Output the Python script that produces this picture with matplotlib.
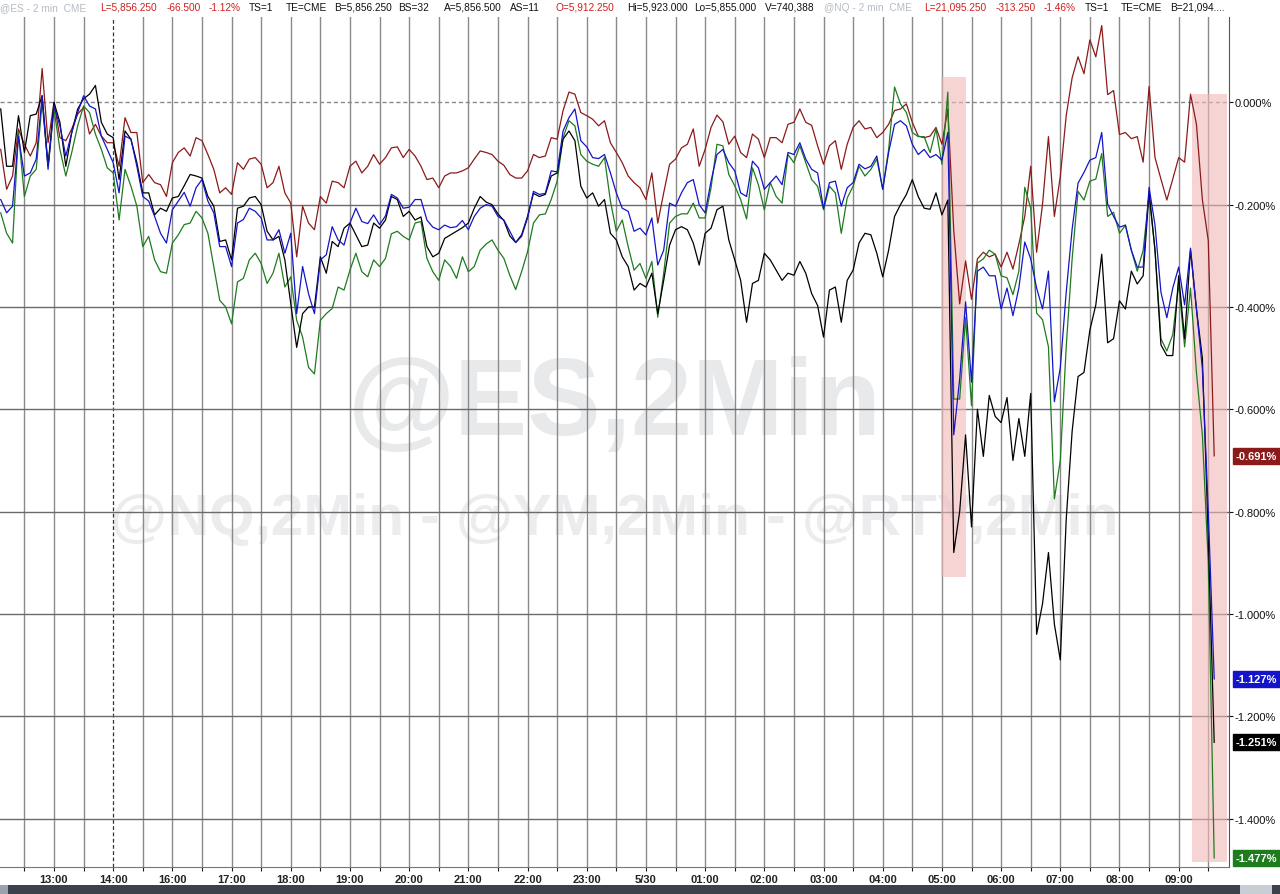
import matplotlib
matplotlib.use("Agg")
import matplotlib.pyplot as plt
import numpy as np
from matplotlib.patches import Rectangle

plt.rcParams['font.family'] = ['Liberation Sans', 'DejaVu Sans']

# chart time in hours, 13:00 == 1.0 (the 15:00 hour is the session break, skipped on the axis)
t = np.round(np.arange(1, 207) * 0.1, 1)

# % change, every 0.1h
ym = [-0.092, -0.170, -0.144, -0.052, -0.082, -0.105, -0.079, 0.066, -0.079, 0.000,
      -0.069, -0.075, -0.052, -0.023, -0.010, -0.062, -0.043, -0.066, -0.079, -0.079,
      -0.125, -0.030, -0.059, -0.059, -0.157, -0.141, -0.157, -0.161, -0.184, -0.118,
      -0.098, -0.089, -0.105, -0.069, -0.075, -0.102, -0.131, -0.177, -0.167, -0.180,
      -0.118, -0.131, -0.111, -0.108, -0.121, -0.167, -0.157, -0.125, -0.177, -0.197,
      -0.302, -0.203, -0.236, -0.249, -0.184, -0.197, -0.154, -0.157, -0.167, -0.125,
      -0.115, -0.138, -0.125, -0.102, -0.121, -0.108, -0.089, -0.087, -0.108, -0.092,
      -0.105, -0.125, -0.151, -0.148, -0.167, -0.144, -0.138, -0.138, -0.134, -0.128,
      -0.111, -0.095, -0.098, -0.102, -0.115, -0.123, -0.141, -0.148, -0.148, -0.134,
      -0.102, -0.108, -0.105, -0.069, -0.072, -0.016, 0.020, 0.016, -0.020, -0.026,
      -0.033, -0.046, -0.036, -0.079, -0.098, -0.118, -0.144, -0.157, -0.167, -0.190,
      -0.138, -0.236, -0.177, -0.121, -0.111, -0.089, -0.082, -0.052, -0.125, -0.092,
      -0.049, -0.025, -0.038, -0.082, -0.066, -0.098, -0.108, -0.062, -0.072, -0.108,
      -0.069, -0.069, -0.079, -0.043, -0.039, -0.013, -0.039, -0.045, -0.085, -0.121,
      -0.085, -0.075, -0.131, -0.082, -0.049, -0.036, -0.052, -0.049, -0.069, -0.059,
      -0.043, -0.016, -0.013, -0.003, -0.039, -0.066, -0.069, -0.066, -0.049, -0.082,
      -0.013, -0.250, -0.394, -0.310, -0.385, -0.306, -0.293, -0.302, -0.297, -0.322,
      -0.293, -0.326, -0.277, -0.223, -0.125, -0.293, -0.199, -0.067, -0.223, -0.145,
      -0.026, 0.048, 0.089, 0.056, 0.122, 0.089, 0.150, 0.015, 0.023, -0.063,
      -0.059, -0.071, -0.067, -0.117, 0.031, -0.108, -0.150, -0.191, -0.150, -0.108,
      -0.117, 0.016, -0.043, -0.190, -0.270, -0.691]

rty = [-0.013, -0.125, -0.125, -0.026, -0.098, -0.026, -0.023, 0.013, -0.125, 0.000,
       -0.039, -0.125, -0.059, -0.013, 0.007, 0.016, 0.033, -0.039, -0.062, -0.069,
       -0.151, -0.056, -0.072, -0.118, -0.177, -0.177, -0.220, -0.207, -0.213, -0.187,
       -0.184, -0.163, -0.141, -0.144, -0.148, -0.184, -0.203, -0.272, -0.269, -0.308,
       -0.207, -0.203, -0.187, -0.184, -0.200, -0.252, -0.269, -0.262, -0.308, -0.393,
       -0.479, -0.413, -0.400, -0.400, -0.302, -0.334, -0.272, -0.282, -0.246, -0.236,
       -0.259, -0.282, -0.279, -0.236, -0.246, -0.230, -0.184, -0.190, -0.223, -0.213,
       -0.230, -0.224, -0.282, -0.302, -0.295, -0.266, -0.259, -0.252, -0.245, -0.236,
       -0.207, -0.184, -0.195, -0.200, -0.218, -0.231, -0.261, -0.274, -0.259, -0.223,
       -0.178, -0.184, -0.180, -0.144, -0.138, -0.072, -0.056, -0.075, -0.164, -0.187,
       -0.177, -0.203, -0.190, -0.256, -0.269, -0.302, -0.321, -0.367, -0.354, -0.361,
       -0.334, -0.413, -0.348, -0.279, -0.249, -0.243, -0.249, -0.275, -0.318, -0.256,
       -0.246, -0.210, -0.203, -0.269, -0.308, -0.348, -0.430, -0.354, -0.348, -0.295,
       -0.308, -0.328, -0.348, -0.334, -0.338, -0.311, -0.334, -0.374, -0.397, -0.459,
       -0.367, -0.361, -0.430, -0.348, -0.328, -0.275, -0.256, -0.259, -0.295, -0.341,
       -0.289, -0.223, -0.200, -0.180, -0.151, -0.184, -0.207, -0.209, -0.177, -0.220,
       -0.191, -0.880, -0.800, -0.650, -0.830, -0.600, -0.692, -0.573, -0.614, -0.626,
       -0.577, -0.700, -0.618, -0.692, -0.569, -1.040, -0.980, -0.880, -1.020, -1.090,
       -0.815, -0.643, -0.536, -0.528, -0.445, -0.396, -0.297, -0.470, -0.462, -0.388,
       -0.404, -0.330, -0.355, -0.339, -0.174, -0.289, -0.474, -0.495, -0.495, -0.339,
       -0.462, -0.289, -0.404, -0.500, -0.850, -1.251]

es = [-0.190, -0.216, -0.203, -0.066, -0.144, -0.138, -0.111, 0.013, -0.131, -0.007,
      -0.046, -0.105, -0.059, -0.020, 0.013, -0.007, -0.013, -0.066, -0.092, -0.118,
      -0.177, -0.066, -0.072, -0.125, -0.184, -0.193, -0.223, -0.256, -0.275, -0.210,
      -0.193, -0.176, -0.203, -0.167, -0.151, -0.193, -0.216, -0.282, -0.282, -0.321,
      -0.236, -0.229, -0.207, -0.213, -0.226, -0.269, -0.269, -0.249, -0.295, -0.256,
      -0.413, -0.321, -0.374, -0.413, -0.308, -0.298, -0.243, -0.269, -0.279, -0.236,
      -0.207, -0.233, -0.237, -0.220, -0.239, -0.222, -0.180, -0.187, -0.207, -0.205,
      -0.190, -0.190, -0.230, -0.244, -0.249, -0.240, -0.245, -0.243, -0.231, -0.249,
      -0.223, -0.207, -0.200, -0.203, -0.223, -0.230, -0.252, -0.274, -0.262, -0.226,
      -0.174, -0.180, -0.178, -0.134, -0.136, -0.056, -0.030, -0.013, -0.075, -0.087,
      -0.108, -0.110, -0.102, -0.138, -0.177, -0.207, -0.213, -0.252, -0.246, -0.259,
      -0.226, -0.318, -0.289, -0.197, -0.203, -0.177, -0.157, -0.151, -0.200, -0.216,
      -0.154, -0.102, -0.092, -0.118, -0.134, -0.177, -0.184, -0.115, -0.128, -0.170,
      -0.157, -0.144, -0.161, -0.098, -0.102, -0.079, -0.111, -0.131, -0.138, -0.207,
      -0.157, -0.154, -0.203, -0.167, -0.157, -0.121, -0.130, -0.125, -0.105, -0.170,
      -0.098, -0.043, -0.036, -0.046, -0.082, -0.102, -0.092, -0.108, -0.102, -0.113,
      -0.059, -0.650, -0.541, -0.390, -0.547, -0.330, -0.322, -0.339, -0.339, -0.404,
      -0.363, -0.417, -0.363, -0.273, -0.306, -0.363, -0.404, -0.330, -0.585, -0.519,
      -0.371, -0.248, -0.158, -0.137, -0.113, -0.108, -0.059, -0.199, -0.223, -0.244,
      -0.240, -0.289, -0.322, -0.322, -0.166, -0.240, -0.371, -0.421, -0.363, -0.322,
      -0.396, -0.285, -0.404, -0.520, -0.800, -1.127]

nq = [-0.216, -0.256, -0.275, -0.059, -0.184, -0.144, -0.131, 0.000, -0.125, -0.013,
      -0.092, -0.144, -0.098, -0.046, -0.007, -0.020, -0.062, -0.092, -0.128, -0.138,
      -0.230, -0.131, -0.164, -0.203, -0.282, -0.262, -0.308, -0.331, -0.334, -0.275,
      -0.259, -0.239, -0.236, -0.213, -0.226, -0.256, -0.321, -0.387, -0.400, -0.433,
      -0.351, -0.344, -0.308, -0.295, -0.315, -0.354, -0.334, -0.295, -0.361, -0.341,
      -0.426, -0.459, -0.518, -0.531, -0.426, -0.413, -0.403, -0.361, -0.367, -0.328,
      -0.295, -0.331, -0.341, -0.308, -0.321, -0.305, -0.257, -0.252, -0.262, -0.269,
      -0.236, -0.233, -0.305, -0.331, -0.348, -0.308, -0.321, -0.344, -0.302, -0.331,
      -0.321, -0.289, -0.277, -0.269, -0.289, -0.305, -0.338, -0.366, -0.331, -0.292,
      -0.236, -0.220, -0.218, -0.190, -0.154, -0.069, -0.036, -0.046, -0.102, -0.115,
      -0.121, -0.125, -0.108, -0.193, -0.252, -0.230, -0.282, -0.328, -0.315, -0.344,
      -0.311, -0.420, -0.334, -0.236, -0.223, -0.218, -0.218, -0.197, -0.226, -0.226,
      -0.167, -0.082, -0.085, -0.141, -0.163, -0.190, -0.228, -0.128, -0.161, -0.210,
      -0.157, -0.184, -0.197, -0.102, -0.118, -0.085, -0.118, -0.151, -0.164, -0.210,
      -0.164, -0.177, -0.256, -0.187, -0.164, -0.125, -0.144, -0.131, -0.111, -0.170,
      -0.092, 0.030, -0.003, -0.020, -0.059, -0.067, -0.067, -0.098, -0.052, -0.121,
      0.020, -0.580, -0.580, -0.421, -0.593, -0.314, -0.306, -0.289, -0.297, -0.339,
      -0.343, -0.376, -0.330, -0.166, -0.207, -0.412, -0.425, -0.478, -0.775, -0.700,
      -0.478, -0.306, -0.174, -0.191, -0.154, -0.150, -0.100, -0.223, -0.215, -0.256,
      -0.240, -0.289, -0.330, -0.289, -0.182, -0.289, -0.462, -0.486, -0.454, -0.355,
      -0.478, -0.363, -0.528, -0.650, -0.900, -1.477]

series = [(ym, '#8b1a1a'), (nq, '#1e7b1e'), (rty, '#000000'), (es, '#1414c8')]

xtick_pos = list(range(1, 21))
xtick_labels = ['13:00', '14:00', '16:00', '17:00', '18:00', '19:00', '20:00', '21:00', '22:00', '23:00',
                '5/30', '01:00', '02:00', '03:00', '04:00', '05:00', '06:00', '07:00', '08:00', '09:00']
ytick_vals = [0.0, -0.2, -0.4, -0.6, -0.8, -1.0, -1.2, -1.4]

# highlighted windows: (t0, t1, top, bottom)
highlights = [(15.98, 16.41, 0.049, -0.928), (20.22, 20.81, 0.016, -1.485)]

fig = plt.figure(figsize=(12.8, 8.95), dpi=100)
ax = fig.add_axes([0, 1 - 868 / 895, 1229 / 1280, 850 / 895])
ax.set_xlim(0.088, 20.85)
ax.set_ylim(-1.4947, 0.1668)

# watermarks
ax.text(0.5, 0.542, '@ES,2Min', transform=ax.transAxes, ha='center', va='center',
        fontsize=79, fontweight='bold', color='#e8e9eb', zorder=0)
ax.text(0.5, 0.409, '@NQ,2Min - @YM,2Min - @RTY,2Min', transform=ax.transAxes, ha='center',
        va='center', fontsize=42, fontweight='bold', color='#ececee', zorder=0)

# grid
for g in np.arange(0.5, 20.9, 0.5):
    if g == 2.0:
        ax.axvline(g, color='#333333', lw=0.9, ls=(0, (3, 2)), zorder=1)
    else:
        ax.axvline(g, color='#8a8a8a', lw=1.0, zorder=1)
for v in ytick_vals:
    if v == 0:
        ax.axhline(v, color='#8a8a8a', lw=1.0, ls=(0, (3, 2)), zorder=1)
    else:
        ax.axhline(v, color='#6a6a6a', lw=1.0, zorder=1)

for t0, t1, top, bot in highlights:
    ax.add_patch(Rectangle((t0, bot), t1 - t0, top - bot, facecolor='#f2b8b8', alpha=0.6,
                           edgecolor='none', zorder=1.5))

for vals, col in series:
    ax.plot(t, vals, color=col, lw=0.9, zorder=3)

# end-value badges
for vals, col in series:
    ax.annotate(f'{vals[-1]:.3f}%', xy=(1.0, vals[-1]), xycoords=('axes fraction', 'data'),
                xytext=(5, 0), textcoords='offset points', ha='left', va='center',
                fontsize=8, fontweight='bold', color='white', annotation_clip=False,
                bbox=dict(boxstyle='square,pad=0.28', fc=col, ec=col))

ax.yaxis.tick_right()
ax.set_yticks(ytick_vals)
ax.set_yticklabels([f'{v:.3f}%' for v in ytick_vals])
ax.tick_params(axis='y', length=3, pad=1, labelsize=8, colors='#111111', width=0.8)
ax.set_xticks(xtick_pos)
ax.set_xticklabels(xtick_labels, fontweight='bold')
ax.set_xticks(np.arange(0.5, 20.9, 1.0), minor=True)
ax.tick_params(axis='x', which='both', length=3, pad=2, labelsize=8, colors='#222222', width=0.8)

for s in ['top', 'left']:
    ax.spines[s].set_visible(False)
ax.spines['right'].set_color('#555555')
ax.spines['bottom'].set_color('#777777')

# header line
header = [('@ES - 2 min  CME', '#b4bcc4', 0), ('L=5,856.250', '#d02020', 100), ('-66.500', '#d02020', 167),
          ('-1.12%', '#d02020', 209), ('TS=1', '#111111', 249), ('TE=CME', '#111111', 286),
          ('B=5,856.250', '#111111', 334), ('BS=32', '#111111', 398), ('A=5,856.500', '#111111', 444),
          ('AS=11', '#111111', 510), ('O=5,912.250', '#d02020', 556), ('Hi=5,923.000', '#111111', 627),
          ('Lo=5,855.000', '#111111', 694), ('V=740,388', '#111111', 765), ('@NQ - 2 min  CME', '#b4bcc4', 824),
          ('L=21,095.250', '#d02020', 924), ('-313.250', '#d02020', 996), ('-1.46%', '#d02020', 1044),
          ('TS=1', '#111111', 1085), ('TE=CME', '#111111', 1121), ('B=21,094....', '#111111', 1170)]
for txt, col, xp in header:
    fig.text(xp / 1280, 1 - 8 / 895, txt, color=col, fontsize=7.3, ha='left', va='center')

# scrollbar strip at the bottom
fig.patches.append(Rectangle((0, 0), 8 / 1280, 9 / 895, transform=fig.transFigure,
                             facecolor='#9aa3ad', edgecolor='none'))
fig.patches.append(Rectangle((8 / 1280, 0), 1232 / 1280, 9 / 895, transform=fig.transFigure,
                             facecolor='#3b424b', edgecolor='none'))
fig.patches.append(Rectangle((1240 / 1280, 0), 32 / 1280, 9 / 895, transform=fig.transFigure,
                             facecolor='#c8cdd3', edgecolor='none'))
fig.patches.append(Rectangle((1272 / 1280, 0), 8 / 1280, 9 / 895, transform=fig.transFigure,
                             facecolor='#3b424b', edgecolor='none'))

fig.savefig('out.png', dpi=100)
